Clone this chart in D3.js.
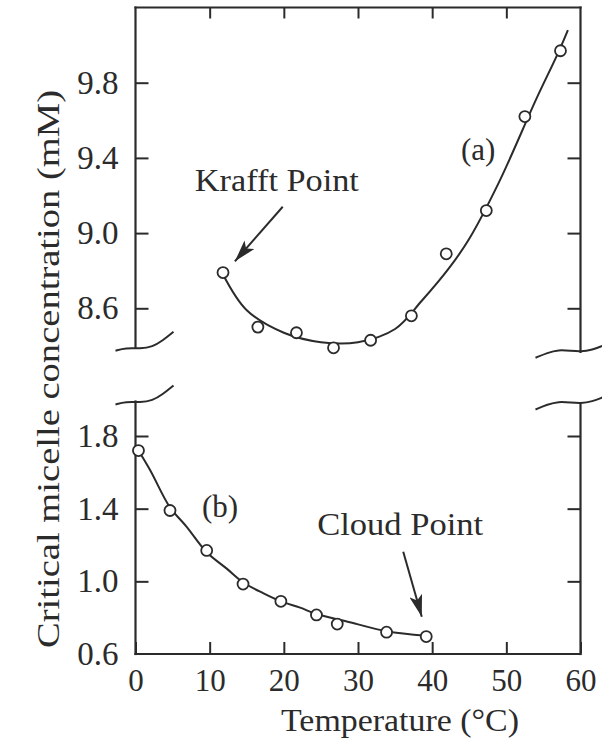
<!DOCTYPE html>
<html>
<head>
<meta charset="utf-8">
<script src="https://cdn.jsdelivr.net/npm/d3@7"></script>
<style>
  body { margin: 0; background: #fff; }
  svg { display: block; }
  svg text { font-family: 'Liberation Serif', 'Times New Roman', Times, Tinos, 'Nimbus Roman', serif; }
</style>
</head>
<body>
<div id="chart"></div>
<script>
const width = 602;
const height = 743;
const ink = '#2b2b2b';

// (a) upper branch, (b) lower branch : temperature (°C) vs cmc (mM)
const temp_a = [11.8, 16.5, 21.7, 26.7, 31.7, 37.2, 41.9, 47.3, 52.5, 57.3];
const cmc_a = [8.79, 8.50, 8.47, 8.39, 8.43, 8.56, 8.89, 9.12, 9.62, 9.97];
const fit_temp_a = [11.8, 15, 20, 25, 30, 35, 38.6, 42.4, 45, 49, 54, 57, 58.3];
const fit_cmc_a = [8.78, 8.59, 8.47, 8.42, 8.42, 8.49, 8.64, 8.82, 8.97, 9.27, 9.71, 9.96, 10.08];

const temp_b = [0.4, 4.65, 9.6, 14.5, 19.6, 24.4, 27.2, 33.85, 39.2];
const cmc_b = [1.72, 1.39, 1.17, 0.985, 0.89, 0.815, 0.765, 0.72, 0.696];
const fit_temp_b = [0.4, 2, 4.6, 6.9, 9.6, 12.3, 14.5, 17.2, 19.6, 22.2, 24.4, 28.9, 33.9, 39.2];
const fit_cmc_b = [1.72, 1.61, 1.41, 1.30, 1.16, 1.07, 0.995, 0.935, 0.89, 0.855, 0.82, 0.775, 0.725, 0.70];

const x_ticks = [0, 10, 20, 30, 40, 50, 60];
const y_ticks_a = [8.6, 9.0, 9.4, 9.8];
const y_ticks_b = [0.6, 1.0, 1.4, 1.8];

const x = d3.scaleLinear().domain([0, 60]).range([135.5, 580.5]);
const yA = d3.scaleLinear().domain([8.6, 9.8]).range([308.3, 82.7]);
const yB = d3.scaleLinear().domain([0.6, 1.8]).range([654, 436]);
const top_a = 10.2, break_a = 8.39, break_b = 1.99, bottom_b = 0.6;

const svg = d3.select('#chart')
  .append('svg')
    .attr('width', width)
    .attr('height', height)
    .style('background', '#fff');

svg.append('defs').append('marker')
    .attr('id', 'head')
    .attr('viewBox', '0 0 22 13')
    .attr('refX', 22).attr('refY', 6.5)
    .attr('markerWidth', 22).attr('markerHeight', 13)
    .attr('markerUnits', 'userSpaceOnUse')
    .attr('orient', 'auto')
  .append('path')
    .attr('d', 'M0,0 L22,6.5 L0,13 L5,6.5 Z')
    .attr('fill', ink);

let styleAxis = g => {
  g.select('.domain').remove();
  g.attr('font-family', null);
  g.selectAll('line').attr('stroke', ink).attr('stroke-width', 2);
  g.selectAll('text').attr('fill', ink);
}

// ticks: all inward
svg.append('g')
  .attr('transform', `translate(0,${yB(bottom_b) - 1})`)
  .call(d3.axisBottom(x).tickValues(x_ticks).tickSize(-11).tickPadding(16).tickFormat(d3.format('d')))
  .call(styleAxis)
  .call(g => g.selectAll('text').attr('font-size', 31));

svg.append('g')
  .attr('transform', `translate(0,${yA(top_a)})`)
  .call(d3.axisTop(x).tickValues(x_ticks.slice(1, -1)).tickSize(-11).tickFormat(''))
  .call(styleAxis);

[[yA, y_ticks_a], [yB, y_ticks_b]].forEach(([y, ticks]) => {
  svg.append('g')
    .attr('transform', `translate(${x(0)},0)`)
    .call(d3.axisLeft(y).tickValues(ticks).tickSize(-13).tickPadding(17).tickFormat(d3.format('.1f')))
    .call(styleAxis)
    .call(g => g.selectAll('text').attr('font-size', 33))
    .call(g => g.selectAll('.tick line').filter(d => d === bottom_b).remove());

  svg.append('g')
    .attr('transform', `translate(${x(60)},0)`)
    .call(d3.axisRight(y).tickValues(ticks.filter(d => d !== bottom_b)).tickSize(-13).tickFormat(''))
    .call(styleAxis);
});

// frame, split at the axis break
const frame = [
  [[0, yA(top_a)], [60, yA(top_a)]],
  [[0, yB(bottom_b)], [60, yB(bottom_b)]],
  [[0, yA(top_a)], [0, yA(break_a)]],
  [[0, yB(break_b)], [0, yB(bottom_b)]],
  [[60, yA(top_a)], [60, yA(break_a) + 4]],
  [[60, yB(break_b) + 2], [60, yB(bottom_b)]],
];
svg.append('g').selectAll('line')
  .data(frame)
  .join('line')
    .attr('x1', d => x(d[0][0])).attr('y1', d => d[0][1])
    .attr('x2', d => x(d[1][0])).attr('y2', d => d[1][1])
    .attr('stroke', ink)
    .attr('stroke-width', 2.2)
    .attr('stroke-linecap', 'square');

// break squiggles (offsets in px from the axis crossing)
const squiggle_left = [[-20, 3], [-10, 0], [5, 1], [17, -1], [27, -7], [38, -16]];
const squiggle_right = [[-45, 6], [-33, 1], [-22, -2], [-10, -1], [0, 0], [12, -2], [22, -6]];
const wavy = d3.line().curve(d3.curveBasis);
[[0, yA(break_a), squiggle_left], [0, yB(break_b), squiggle_left],
 [60, yA(break_a) + 4, squiggle_right], [60, yB(break_b) + 2, squiggle_right]].forEach(([t, yy, pts]) => {
  svg.append('path')
    .attr('d', wavy(pts.map(p => [x(t) + p[0], yy + p[1]])))
    .attr('fill', 'none')
    .attr('stroke', ink)
    .attr('stroke-width', 2);
});

// fitted curves
const curve = (y) => d3.line().x(d => x(d[0])).y(d => y(d[1])).curve(d3.curveCatmullRom);
svg.append('path')
  .attr('d', curve(yA)(d3.zip(fit_temp_a, fit_cmc_a)))
  .attr('fill', 'none').attr('stroke', ink).attr('stroke-width', 2);
svg.append('path')
  .attr('d', curve(yB)(d3.zip(fit_temp_b, fit_cmc_b)))
  .attr('fill', 'none').attr('stroke', ink).attr('stroke-width', 2);

// data points
[[temp_a, cmc_a, yA], [temp_b, cmc_b, yB]].forEach(([tx, cy, y]) => {
  svg.append('g').selectAll('circle')
    .data(d3.zip(tx, cy))
    .join('circle')
      .attr('cx', d => x(d[0]))
      .attr('cy', d => y(d[1]))
      .attr('r', 5.5)
      .attr('fill', '#fff')
      .attr('stroke', ink)
      .attr('stroke-width', 1.8);
});

// annotations
let label = (txt, px, py, size, anchor, len) => {
  const t = svg.append('text')
    .attr('x', px).attr('y', py)
    .attr('font-size', size)
    .attr('fill', ink)
    .attr('text-anchor', anchor)
    .text(txt);
  if (len) t.attr('textLength', len).attr('lengthAdjust', 'spacingAndGlyphs');
  return t;
}
label('Krafft Point', x(8.0), yA(9.224), 31, 'start', 164);
label('Cloud Point', x(24.5), yB(1.255), 31, 'start', 166);
label('(a)', x(46.2), yA(9.39), 31, 'middle');
label('(b)', x(11.4), yB(1.356), 31, 'middle');

const arrows = [
  [x(19.85), yA(9.14), x(13.4), yA(8.85)],
  [x(36.1), yB(1.163), x(38.6), yB(0.805)],
];
svg.append('g').selectAll('line')
  .data(arrows)
  .join('line')
    .attr('x1', d => d[0]).attr('y1', d => d[1])
    .attr('x2', d => d[2]).attr('y2', d => d[3])
    .attr('stroke', ink)
    .attr('stroke-width', 2)
    .attr('marker-end', 'url(#head)');

// axis titles
label('Temperature (°C)', 400, 731, 31, 'middle', 238);
label('Critical micelle concentration (mM)', 0, 0, 31, 'middle', 558)
  .attr('transform', 'translate(59,369) rotate(-90)');
</script>
</body>
</html>
